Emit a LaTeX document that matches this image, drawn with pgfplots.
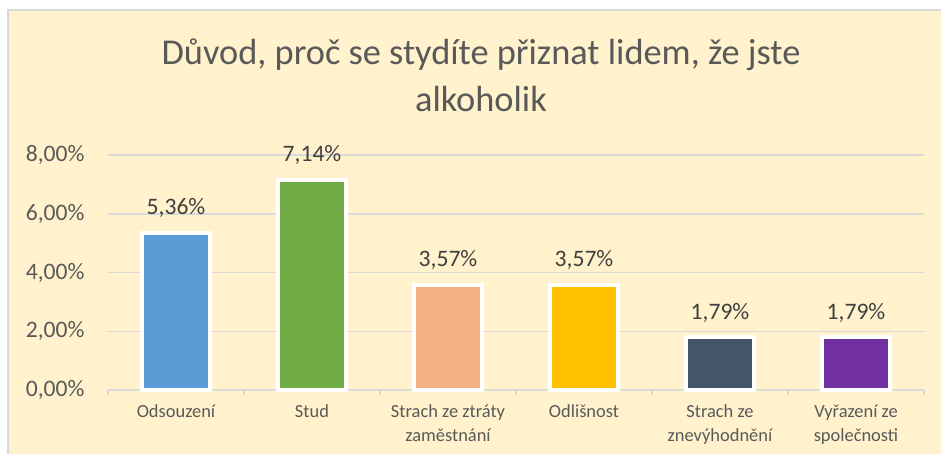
\documentclass[border=0pt]{standalone}
\usepackage{pgfplots}
\pgfplotsset{compat=1.18}
\usepackage{fontspec}
\setmainfont{Carlito}
\definecolor{bgc}{HTML}{FFF2CC}
\definecolor{gridc}{HTML}{D9D9D9}
\definecolor{txt}{HTML}{595959}
\definecolor{lbl}{HTML}{404040}
\definecolor{c1}{HTML}{5B9BD5}
\definecolor{c2}{HTML}{70AD47}
\definecolor{c3}{HTML}{F4B183}
\definecolor{c4}{HTML}{FFC000}
\definecolor{c5}{HTML}{44546A}
\definecolor{c6}{HTML}{7030A0}
\begin{document}
\begin{tikzpicture}
\useasboundingbox (0,0) rectangle (941bp,454bp);
\fill[white] (0,0) rectangle (941bp,454bp);
\fill[bgc] (8bp,0) rectangle (941bp,444bp);
\draw[gridc, line width=1.5bp] (8bp,0) -- (8bp,444bp) -- (941bp,444bp);
\node[anchor=base, text=txt, font=\fontsize{36.5}{42}\selectfont, inner sep=0pt] at (481bp,389bp) {Důvod, proč se stydíte přiznat lidem, že jste};
\node[anchor=base, text=txt, font=\fontsize{36.5}{42}\selectfont, inner sep=0pt] at (481bp,342bp) {alkoholik};
\begin{axis}[
  at={(108bp,64bp)}, anchor=south west,
  scale only axis, width=816bp, height=235bp,
  xmin=-0.5, xmax=5.5, ymin=0, ymax=8,
  axis line style={draw=none},
  ymajorgrids, grid style={gridc, line width=1.5bp},
  ytick={0,2,4,6,8},
  yticklabel={\pgfmathprintnumber[fixed,fixed zerofill,precision=2,use comma]{\tick}\%},
  /pgf/number format/assume math mode=true,
  yticklabel style={font=\fontsize{23.7}{27}\selectfont, text=txt, anchor=east, xshift=-20bp},
  major tick length=0pt,
  xtick pos=left,
  xtick={0,1,2,3,4,5},
  xticklabels={Odsouzení, Stud, {Strach ze ztráty\\zaměstnání}, Odlišnost, {Strach ze\\znevýhodnění}, {Vyřazení ze\\společnosti}},
  xticklabel style={font=\fontsize{18.5}{24}\selectfont, text=txt, align=center, anchor=north, yshift=-11bp},
  extra x ticks={-0.5,0.5,1.5,2.5,3.5,4.5,5.5},
  extra x tick labels={},
  extra x tick style={grid=none, major tick length=5bp, tick align=outside, tick style={gridc, line width=1.5bp}},
  ybar, bar width=68bp, bar shift=0pt,
  nodes near coords={\pgfmathprintnumber[fixed,fixed zerofill,precision=2,use comma]{\pgfplotspointmeta}\%},
  nodes near coords style={font=\fontsize{23.7}{27}\selectfont, text=lbl, anchor=south, yshift=10bp},
  clip=false,
]
\addplot[fill=c1, draw=white, line width=4bp] coordinates {(0,5.36)};
\addplot[fill=c2, draw=white, line width=4bp] coordinates {(1,7.14)};
\addplot[fill=c3, draw=white, line width=4bp] coordinates {(2,3.57)};
\addplot[fill=c4, draw=white, line width=4bp] coordinates {(3,3.57)};
\addplot[fill=c5, draw=white, line width=4bp] coordinates {(4,1.79)};
\addplot[fill=c6, draw=white, line width=4bp] coordinates {(5,1.79)};
\end{axis}
\end{tikzpicture}
\end{document}
